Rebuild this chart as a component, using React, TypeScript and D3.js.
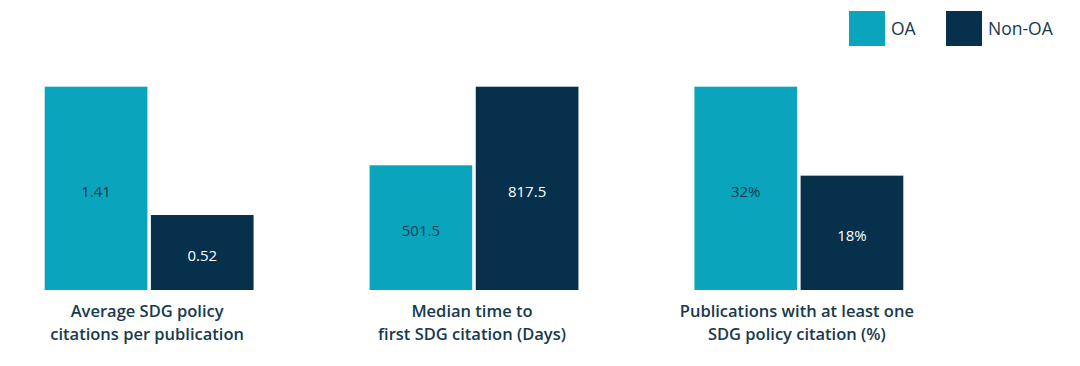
import React from 'react';
import * as d3 from 'd3';

// chart data
const metrics = ['avg', 'median', 'pct'];
const metricLabels = [
  ['Average SDG policy', 'citations per publication'],
  ['Median time to', 'first SDG citation (Days)'],
  ['Publications with at least one', 'SDG policy citation (%)'],
];
const oaValues = [1.41, 501.5, 32];
const nonOaValues = [0.52, 817.5, 18];
const valueSuffix = ['', '', '%'];
const seriesNames = ['OA', 'Non-OA'];

const colors: Record<string, string> = { OA: '#0ba4bd', 'Non-OA': '#06304c' };
const textDark = '#173a4d';

const W = 1080;
const H = 366;
const baseline = 290;
const top = 86.7;
const font = '"Open Sans", "Noto Sans", sans-serif';

const App = () => {
  // outer scale: one band per metric
  const x0 = d3.scaleBand<string>()
    .domain(metrics)
    .range([44.7, 903.3])
    .paddingInner(0.357)
    .paddingOuter(0);

  // inner scale: OA vs Non-OA
  const x1 = d3.scaleBand<string>()
    .domain(seriesNames)
    .range([0, x0.bandwidth()])
    .paddingInner(0.033);

  return (
    <svg width={W} height={H} style={{ position: 'absolute', left: 0, top: 0, background: '#fff' }}>
      {/* Legend */}
      <g fontFamily={font} fontSize={17.5} fill={textDark}>
        <rect x={849} y={11} width={36} height={35} fill={colors.OA} />
        <text x={891} y={29} dy="0.35em">OA</text>
        <rect x={946} y={11} width={36} height={35} fill={colors['Non-OA']} />
        <text x={988} y={29} dy="0.35em">Non-OA</text>
      </g>

      {metrics.map((m, i) => {
        const vals = [oaValues[i], nonOaValues[i]];
        // each panel has its own scale, tallest bar reaches the top
        const y = d3.scaleLinear()
          .domain([0, d3.max(vals) as number])
          .range([baseline, top]);
        const gx = x0(m) as number;
        const cx = gx + x0.bandwidth() / 2;
        return (
          <g key={m}>
            {seriesNames.map((s, j) => {
              const v = vals[j];
              const bx = gx + (x1(s) as number);
              const by = y(v);
              const mid = (by + baseline) / 2;
              return (
                <g key={s}>
                  <rect x={bx} y={by} width={x1.bandwidth()} height={baseline - by} fill={colors[s]} />
                  <text
                    x={bx + x1.bandwidth() / 2}
                    y={mid + 3}
                    dy="0.35em"
                    textAnchor="middle"
                    fontFamily={font}
                    fontSize={15}
                    fill={s === 'OA' ? textDark : '#ffffff'}
                  >
                    {v + valueSuffix[i]}
                  </text>
                </g>
              );
            })}
            {metricLabels[i].map((line, k) => (
              <text
                key={k}
                x={cx - 2}
                y={317 + k * 23}
                textAnchor="middle"
                fontFamily={font}
                fontSize={16.5}
                fontWeight={600}
                fill={textDark}
              >
                {line}
              </text>
            ))}
          </g>
        );
      })}
    </svg>
  );
};

export default App;
